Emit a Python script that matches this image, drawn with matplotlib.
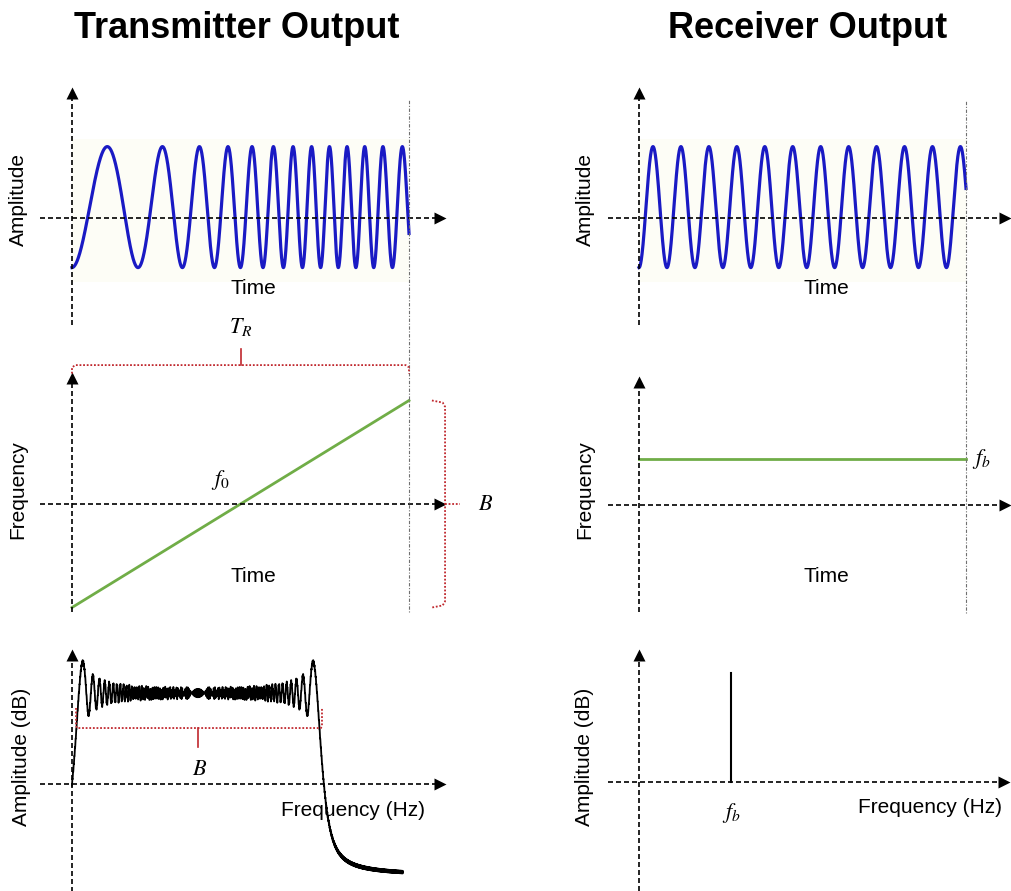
import numpy as np
import matplotlib
matplotlib.use("Agg")
import matplotlib.pyplot as plt

plt.rcParams["font.family"] = ["Liberation Sans", "DejaVu Sans"]
plt.rcParams["mathtext.fontset"] = "stix"

W, H = 1011, 891

# --- values ----------------------------------------------------------------
# transmitter chirp: times (fraction of T_R) of successive waveform peaks
tx_peak_times = [0.104, 0.267, 0.380, 0.463, 0.533, 0.598, 0.657,
                 0.712, 0.761, 0.816, 0.870, 0.924, 0.979]
tx_peak_cycles = [0.5 + i for i in range(len(tx_peak_times))]
wave_offset = 0.18           # waveform centre sits a little above the axis

# receiver tone: cycles over one T_R
rx_cycles = 11.7

# frequency ramp (units of B) at start / end of the sweep
tx_freq_ramp = [-0.5, 0.5]
rx_beat_freq = 0.222         # constant beat frequency in the ramp panel

# chirp spectrum: time-bandwidth product, floor and plateau level
tx_tb_product = 400
spec_floor = -1.02
spec_level = 1.0
spec_span = [0.0, 1.313]     # plotted frequency range, units of B

# receiver spectrum: single line
rx_line_freq = 0.365
rx_line_amp = 1.2

BLUE = "#1a1ac4"
GREEN = "#70ad47"
RED = "#c0282e"
GREY = "#707070"

fig = plt.figure(figsize=(W / 100, H / 100), dpi=100)


def panel(origin, scale):
    # full-figure transparent axes, data (0,0) at pixel origin
    ax = fig.add_axes([0, 0, 1, 1])
    ox, oy = origin
    sx, sy = scale
    ax.set_xlim(-ox / sx, (W - ox) / sx)
    ax.set_ylim((oy - H) / sy, oy / sy)
    ax.axis("off")
    return ax


def draw_axes(ax, xr, yr):
    kw = dict(color="black", lw=1.2, dashes=(3, 1.8))
    ax.plot(xr, [0, 0], **kw)
    ax.plot([0, 0], yr, **kw)
    ax.plot(xr[1], 0, marker=">", ms=8, color="black", mec="none")
    ax.plot(0, yr[1], marker="^", ms=8, color="black", mec="none")


def label(ax, x, y, s, **kw):
    kw.setdefault("fontsize", 15)
    ax.text(x, y, s, ha="center", va="center", **kw)


def ylabel(px, py, s):
    fig.text(px / W, 1 - py / H, s, rotation=90, fontsize=15,
             ha="center", va="center")


# titles
fig.text(237 / W, 1 - 28 / H, "Transmitter Output", fontsize=26,
         fontweight="bold", ha="center", va="center")
fig.text(808 / W, 1 - 28 / H, "Receiver Output", fontsize=26,
         fontweight="bold", ha="center", va="center")

# ---- transmitter time waveform ------------------------------------------------
ax1 = panel((72, 218), (337, 60.5))
ax1.add_patch(plt.Rectangle((0, -1.05), 1, 2.35, color="#fdfdf6", lw=0))
coef = np.polyfit([0.0] + tx_peak_times, [0.0] + tx_peak_cycles, 4)
t = np.linspace(0, 1, 3000)
ax1.plot(t, -np.cos(2 * np.pi * np.polyval(coef, t)) + wave_offset,
         color=BLUE, lw=2.3, solid_joinstyle="round")
draw_axes(ax1, [-0.095, 1.092], [-1.77, 2.07])
label(ax1, 0.537, -1.17, "Time")
ylabel(18, 200, "Amplitude")

# ---- transmitter frequency ramp ----------------------------------------------
ax2 = panel((72, 504), (337, 207))
ax2.plot([0, 1], tx_freq_ramp, color=GREEN, lw=2.0)
draw_axes(ax2, [-0.095, 1.092], [-0.522, 0.609])
ax2.plot([1, 1], [-0.52, 1.95], color=GREY, lw=0.8, ls=(0, (1, 1.5, 3, 1.5)))
label(ax2, 0.537, -0.348, "Time")
label(ax2, 0.44, 0.116, r"$f_0$", fontsize=16)
ylabel(18, 490, "Frequency")

# T_R brace
bkw = dict(color=RED, lw=1.3, ls=(0, (1, 1)))
ax2.plot([0, 0, 0.01, 0.99, 1, 1], [0.63, 0.66, 0.671, 0.671, 0.66, 0.63], **bkw)
ax2.plot([0.5, 0.5], [0.671, 0.75], color=RED, lw=1.2)
label(ax2, 0.5, 0.855, r"$T_R$", fontsize=16)

# B brace
top, bot = tx_freq_ramp[1], tx_freq_ramp[0]
ax2.plot([1.068, 1.1, 1.107, 1.107, 1.1, 1.068],
         [top, top - 0.01, top - 0.03, bot + 0.03, bot + 0.01, bot], **bkw)
ax2.plot([1.107, 1.151], [0, 0], **bkw)
label(ax2, 1.226, 0.0, r"$B$", fontsize=16)

# ---- transmitter spectrum ----------------------------------------------------
ax3 = panel((72, 784), (252, 91))
n = 4 * tx_tb_product
ts = np.arange(n) / n - 0.5
sig = np.exp(1j * np.pi * tx_tb_product * ts ** 2)
nfft = 2 ** 16
spec = np.abs(np.fft.fftshift(np.fft.fft(sig, nfft)))
freq = np.fft.fftshift(np.fft.fftfreq(nfft, d=1 / n)) / tx_tb_product + 0.5
spec /= np.median(spec[(freq > 0.3) & (freq < 0.7)])
m = (freq >= spec_span[0]) & (freq <= spec_span[1])
ax3.plot(freq[m], spec_floor + (spec_level - spec_floor) * spec[m],
         color="black", lw=1.3)
draw_axes(ax3, [-0.128, 1.46], [-1.2, 1.418])
label(ax3, 1.115, -0.286, "Frequency (Hz)")
ylabel(22, 757, "Amplitude (dB)")

ax3.plot([0.016, 0.016, 0.02, 0.988, 0.992, 0.992],
         [0.835, 0.64, 0.615, 0.615, 0.64, 0.835], **bkw)
ax3.plot([0.5, 0.5], [0.615, 0.407], color=RED, lw=1.2)
label(ax3, 0.508, 0.154, r"$B$", fontsize=16)

# ---- receiver time waveform ----------------------------------------------------
ax4 = panel((639, 218), (327, 60.5))
ax4.add_patch(plt.Rectangle((0, -1.05), 1, 2.35, color="#fdfdf6", lw=0))
ax4.plot(t, -np.cos(2 * np.pi * rx_cycles * t) + wave_offset,
         color=BLUE, lw=2.3)
draw_axes(ax4, [-0.095, 1.119], [-1.77, 2.07])
label(ax4, 0.572, -1.17, "Time")
ylabel(585, 200, "Amplitude")

# ---- receiver beat frequency ---------------------------------------------------
ax5 = panel((639, 505), (327, 207))
ax5.plot([0, 1], [rx_beat_freq, rx_beat_freq], color=GREEN, lw=2.0)
draw_axes(ax5, [-0.095, 1.119], [-0.517, 0.594])
ax5.plot([1, 1], [-0.52, 1.95], color=GREY, lw=0.8, ls=(0, (1, 1.5, 3, 1.5)))
label(ax5, 0.572, -0.343, "Time")
ax5.text(1.018, rx_beat_freq, r"$f_b$", fontsize=16, ha="left", va="center")
ylabel(585, 490, "Frequency")

# ---- receiver spectrum ----------------------------------------------------
ax6 = panel((639, 782), (252, 91))
ax6.plot([rx_line_freq, rx_line_freq], [0, rx_line_amp], color="black", lw=1.5)
draw_axes(ax6, [-0.123, 1.45], [-1.2, 1.396])
label(ax6, 1.155, -0.275, "Frequency (Hz)")
label(ax6, rx_line_freq, -0.34, r"$f_b$", fontsize=16)
ylabel(585, 757, "Amplitude (dB)")

fig.savefig("out.png", dpi=100)
